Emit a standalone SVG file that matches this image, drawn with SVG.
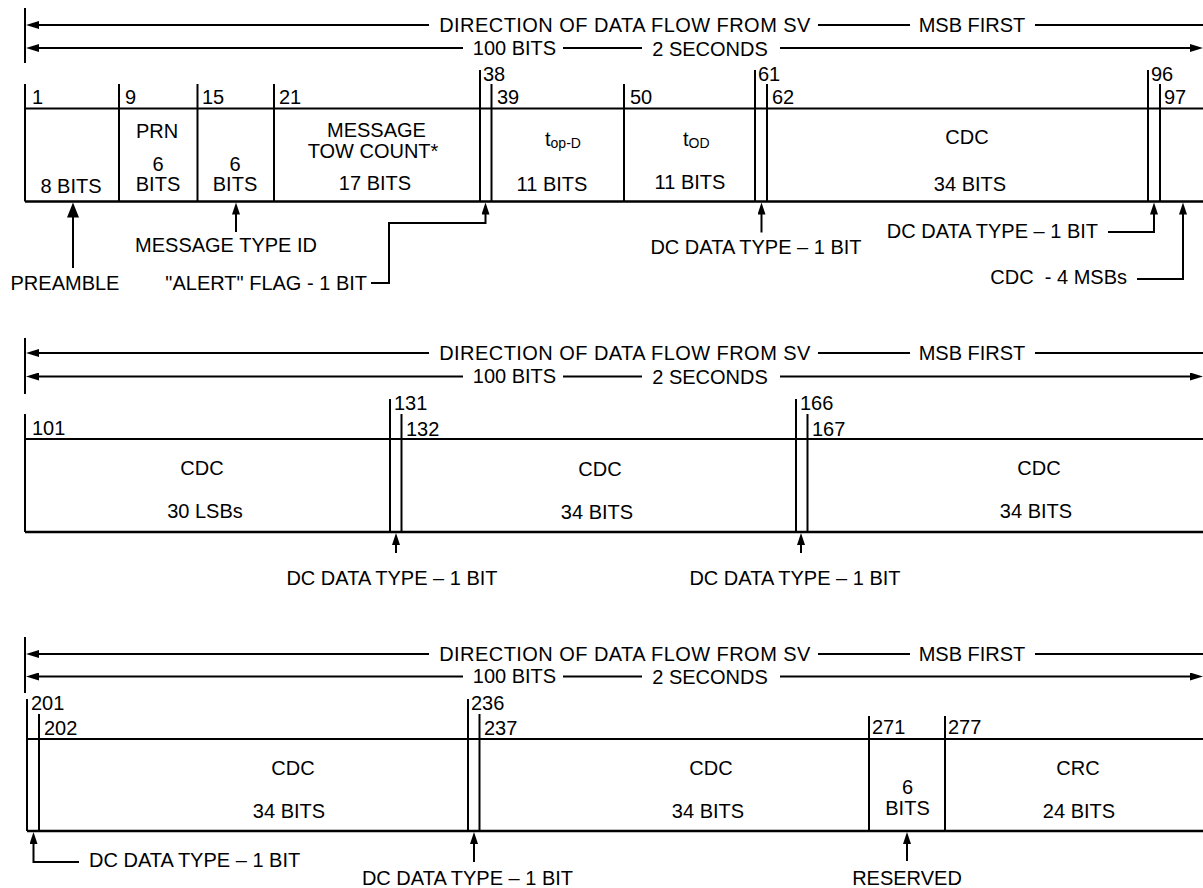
<svg xmlns="http://www.w3.org/2000/svg" width="1203" height="888" viewBox="0 0 1203 888">
<defs>
<style>
.ln{stroke:#000;stroke-width:2;fill:none}
.bt{stroke:#000;stroke-width:2.5;fill:none}
text{font-family:"Liberation Sans",Arial,Helvetica,sans-serif;font-size:20px;fill:#000}
.m{text-anchor:middle}
.e{text-anchor:end}
.dir{letter-spacing:0.45px}
.sub{font-size:14px}
.ha{marker-end:url(#ah)}
.ua{marker-end:url(#ua)}
.ub{marker-end:url(#ub)}
</style>
<marker id="ah" markerUnits="userSpaceOnUse" viewBox="0 0 13 8" markerWidth="13" markerHeight="8" refX="3" refY="4" orient="auto"><path d="M0,0 L13,4 L0,8 z" fill="#000"/></marker>
<marker id="ua" markerUnits="userSpaceOnUse" viewBox="0 0 12 8" markerWidth="12" markerHeight="8" refX="3" refY="4" orient="auto"><path d="M0,0 L12,4 L0,8 z" fill="#000"/></marker>
<marker id="ub" markerUnits="userSpaceOnUse" viewBox="0 0 15 12" markerWidth="15" markerHeight="12" refX="4" refY="6" orient="auto"><path d="M0,0 L15,6 L0,12 z" fill="#000"/></marker>
</defs>
<rect width="1203" height="888" fill="#fff"/>

<!-- ============ SECTION 1 ============ -->
<g id="s1-header">
<path class="ln" d="M25,8 V63"/>
<text class="m dir" x="625" y="32">DIRECTION OF DATA FLOW FROM SV</text>
<text class="m" x="972" y="32">MSB FIRST</text>
<text class="m" x="514.5" y="55">100 BITS</text>
<text class="m" x="710" y="56">2 SECONDS</text>
</g>
<g id="s1-frame">
<path class="ln" d="M25,108.5 H1203"/>
<path class="bt" d="M25,201.5 H1203"/>
</g>
<g id="f-preamble">
<path class="ln" d="M25,84 V201.5"/>
<text x="32" y="104">1</text>
<text class="m" x="71" y="193">8 BITS</text>
</g>
<g id="f-prn">
<path class="ln" d="M119,84 V201.5"/>
<text x="125" y="104">9</text>
<text class="m" x="157" y="137.5">PRN</text>
<text class="m" x="158" y="170.5">6</text>
<text class="m" x="158" y="190.5">BITS</text>
</g>
<g id="f-msgtype">
<path class="ln" d="M197.5,84 V201.5"/>
<text x="202" y="104">15</text>
<text class="m" x="235" y="170.5">6</text>
<text class="m" x="235" y="190.5">BITS</text>
</g>
<g id="f-tow">
<path class="ln" d="M274,84 V201.5"/>
<text x="279" y="104">21</text>
<text class="m" x="376.5" y="137">MESSAGE</text>
<text class="m" x="373" y="157.5">TOW COUNT*</text>
<text class="m" x="375" y="190">17 BITS</text>
</g>
<g id="f-alert">
<path class="ln" d="M480,70 V201.5"/>
<text x="483" y="80.5">38</text>
</g>
<g id="f-topd">
<path class="ln" d="M491.5,84 V201.5"/>
<text x="497" y="104">39</text>
<text x="545" y="146">t<tspan class="sub" dy="2">op-D</tspan></text>
<text class="m" x="552" y="190.5">11 BITS</text>
</g>
<g id="f-tod">
<path class="ln" d="M624,84 V201.5"/>
<text x="630" y="103.5">50</text>
<text x="683" y="146">t<tspan class="sub" dy="1.5">OD</tspan></text>
<text class="m" x="690" y="188.5">11 BITS</text>
</g>
<g id="f-dc61">
<path class="ln" d="M755,70 V201.5"/>
<text x="758" y="81">61</text>
</g>
<g id="f-cdc62">
<path class="ln" d="M767,84 V201.5"/>
<text x="772" y="104">62</text>
<text class="m" x="967" y="143.5">CDC</text>
<text class="m" x="970" y="190.5">34 BITS</text>
</g>
<g id="f-dc96">
<path class="ln" d="M1148,70 V201.5"/>
<text x="1151" y="81">96</text>
</g>
<g id="f-cdc97">
<path class="ln" d="M1160,84 V201.5"/>
<text x="1164" y="104">97</text>
</g>
<g id="s1-labels">
<text class="m" x="65" y="290">PREAMBLE</text>
<text class="m" x="226" y="252">MESSAGE TYPE ID</text>
<text class="e" x="367" y="290">"ALERT" FLAG - 1 BIT</text>
<text class="m" x="756" y="254">DC DATA TYPE – 1 BIT</text>
<text class="e" x="1098" y="237.5">DC DATA TYPE – 1 BIT</text>
<text class="e" x="1127" y="284" xml:space="preserve">CDC  - 4 MSBs</text>
</g>

<!-- ============ SECTION 2 ============ -->
<g id="s2-header">
<path class="ln" d="M25,338 V394"/>
<text class="m dir" x="625" y="360">DIRECTION OF DATA FLOW FROM SV</text>
<text class="m" x="972" y="360">MSB FIRST</text>
<text class="m" x="514.5" y="383">100 BITS</text>
<text class="m" x="710" y="384">2 SECONDS</text>
</g>
<g id="s2-frame">
<path class="ln" d="M25,439 H1203"/>
<path class="bt" d="M25,532 H1203"/>
</g>
<g id="f-cdc101">
<path class="ln" d="M25,414 V532"/>
<text x="32" y="435">101</text>
<text class="m" x="202" y="475">CDC</text>
<text class="m" x="205" y="518">30 LSBs</text>
</g>
<g id="f-dc131">
<path class="ln" d="M390,399 V532"/>
<text x="394" y="410">131</text>
</g>
<g id="f-cdc132">
<path class="ln" d="M401.5,414 V532"/>
<text x="406" y="436">132</text>
<text class="m" x="600" y="476">CDC</text>
<text class="m" x="597" y="519">34 BITS</text>
</g>
<g id="f-dc166">
<path class="ln" d="M796,399 V532"/>
<text x="800" y="410">166</text>
</g>
<g id="f-cdc167">
<path class="ln" d="M807.5,414 V532"/>
<text x="812" y="436">167</text>
<text class="m" x="1039" y="475">CDC</text>
<text class="m" x="1036" y="518">34 BITS</text>
</g>
<g id="s2-labels">
<text class="m" x="392" y="585">DC DATA TYPE – 1 BIT</text>
<text class="m" x="795" y="585">DC DATA TYPE – 1 BIT</text>
</g>

<!-- ============ SECTION 3 ============ -->
<g id="s3-header">
<path class="ln" d="M25,637 V693"/>
<text class="m dir" x="625" y="661">DIRECTION OF DATA FLOW FROM SV</text>
<text class="m" x="972" y="661">MSB FIRST</text>
<text class="m" x="514.5" y="683">100 BITS</text>
<text class="m" x="710" y="684">2 SECONDS</text>
</g>
<g id="s3-frame">
<path class="ln" d="M27,739 H1203"/>
<path class="bt" d="M27,831 H1203"/>
</g>
<g id="f-dc201">
<path class="ln" d="M27,699 V831"/>
<text x="31" y="710">201</text>
</g>
<g id="f-cdc202">
<path class="ln" d="M39,714 V831"/>
<text x="44" y="735">202</text>
<text class="m" x="293" y="775">CDC</text>
<text class="m" x="289" y="818">34 BITS</text>
</g>
<g id="f-dc236">
<path class="ln" d="M468,699 V831"/>
<text x="471" y="710">236</text>
</g>
<g id="f-cdc237">
<path class="ln" d="M479.5,714 V831"/>
<text x="484" y="735">237</text>
<text class="m" x="711" y="775">CDC</text>
<text class="m" x="708" y="818">34 BITS</text>
</g>
<g id="f-reserved">
<path class="ln" d="M869,716 V831"/>
<text x="872" y="734">271</text>
<text class="m" x="907.5" y="794">6</text>
<text class="m" x="907.5" y="815">BITS</text>
</g>
<g id="f-crc">
<path class="ln" d="M945,716 V831"/>
<text x="948" y="734">277</text>
<text class="m" x="1078" y="775">CRC</text>
<text class="m" x="1079" y="818">24 BITS</text>
</g>
<g id="s3-labels">
<text x="89" y="867">DC DATA TYPE – 1 BIT</text>
<text class="m" x="467.5" y="885">DC DATA TYPE – 1 BIT</text>
<text class="m" x="907" y="885">RESERVED</text>
</g>

<!-- ============ CONNECTORS ============ -->
<g id="connectors">
<!-- section 1 flow arrows -->
<path class="ln ha" d="M429,25 H36"/>
<path class="ln" d="M818,25 H910"/>
<path class="ln" d="M1035,25 H1203"/>
<path class="ln ha" d="M463,48 H36"/>
<path class="ln" d="M563,48 H642"/>
<path class="ln ha" d="M780,48 H1193"/>
<!-- section 1 callouts -->
<path class="ln ub" d="M73,268 V213.5"/>
<path class="ln ua" d="M236,232 V211.5"/>
<path class="ln ua" d="M371,283 H389 V223 H485.5 V211.5"/>
<path class="ln ua" d="M761.5,232.5 V211.5"/>
<path class="ln ua" d="M1108,232 H1154 V211.5"/>
<path class="ln ua" d="M1137,279 H1183 V211.5"/>
<!-- section 2 flow arrows -->
<path class="ln ha" d="M429,353 H36"/>
<path class="ln" d="M818,353 H910"/>
<path class="ln" d="M1035,353 H1203"/>
<path class="ln ha" d="M463,376.5 H36"/>
<path class="ln" d="M563,376.5 H642"/>
<path class="ln ha" d="M780,376.5 H1193"/>
<!-- section 2 callouts -->
<path class="ln ua" d="M396,553 V542"/>
<path class="ln ua" d="M801,553 V542"/>
<!-- section 3 flow arrows -->
<path class="ln ha" d="M429,654 H36"/>
<path class="ln" d="M818,654 H910"/>
<path class="ln" d="M1035,654 H1203"/>
<path class="ln ha" d="M463,676.5 H36"/>
<path class="ln" d="M563,676.5 H642"/>
<path class="ln ha" d="M780,676.5 H1193"/>
<!-- section 3 callouts -->
<path class="ln ua" d="M79,862 H33.5 V841"/>
<path class="ln ua" d="M474,862 V841"/>
<path class="ln ua" d="M907,861 V841"/>
</g>
</svg>
